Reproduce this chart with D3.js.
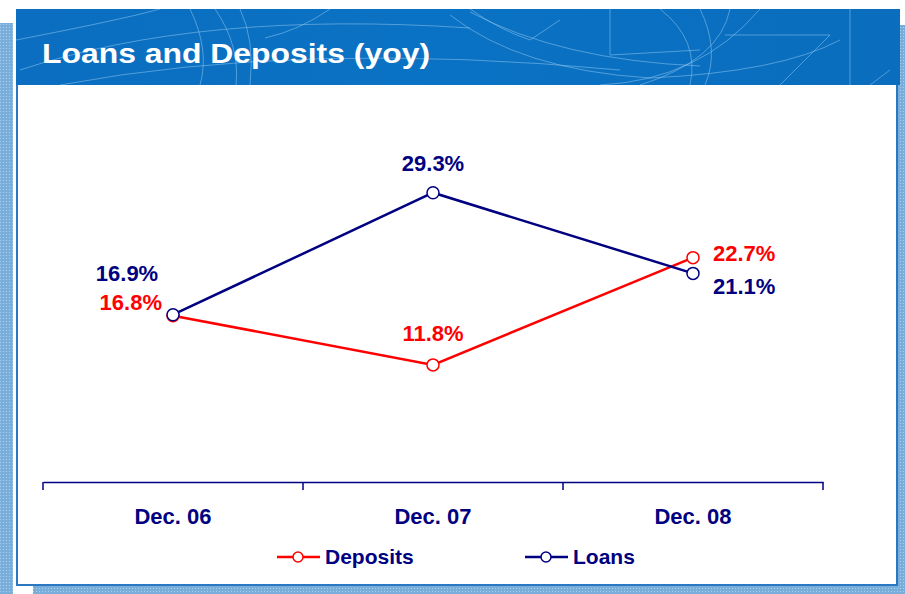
<!DOCTYPE html>
<html>
<head>
<meta charset="utf-8">
<script src="https://cdn.jsdelivr.net/npm/d3@7/dist/d3.min.js"></script>
<style>
  body { margin: 0; background: #fff; }
  svg { display: block; font-family: "Liberation Sans", Arial, sans-serif; }
</style>
</head>
<body>
<svg id="chart" width="905" height="594"></svg>
<script>
var categories = ["Dec. 06", "Dec. 07", "Dec. 08"];
var deposits = [16.8, 11.8, 22.7];
var loans = [16.9, 29.3, 21.1];
var seriesNames = ["Deposits", "Loans"];
var titleText = "Loans and Deposits (yoy)";

var navy = "#000080";
var red = "#ff0000";

// where each value label sits relative to its point
var depositLabelPos = [
  {dx: -11, dy: -6, anchor: "end"},
  {dx: 0, dy: -24, anchor: "middle"},
  {dx: 20, dy: 3, anchor: "start"}
];
var loanLabelPos = [
  {dx: -46, dy: -34, anchor: "middle"},
  {dx: 0, dy: -22, anchor: "middle"},
  {dx: 20, dy: 21, anchor: "start"}
];

var svg = d3.select("#chart");
var defs = svg.append("defs");

// dotted light-blue pattern for the frame strips
var pat = defs.append("pattern")
    .attr("id", "dots")
    .attr("width", 3).attr("height", 3)
    .attr("patternUnits", "userSpaceOnUse");
pat.append("rect").attr("width", 3).attr("height", 3).attr("fill", "#7cb0dc");
pat.append("rect").attr("width", 1).attr("height", 1).attr("fill", "#a9cbea");
pat.append("rect").attr("x", 1.5).attr("y", 1.5).attr("width", 1).attr("height", 1).attr("fill", "#6aa3d4");

svg.append("rect").attr("x", 0).attr("y", 23).attr("width", 13).attr("height", 571).attr("fill", "url(#dots)");
svg.append("rect").attr("x", 897).attr("y", 25).attr("width", 8).attr("height", 569).attr("fill", "url(#dots)");
svg.append("rect").attr("x", 33).attr("y", 586).attr("width", 872).attr("height", 8).attr("fill", "url(#dots)");

// white panel
svg.append("rect")
    .attr("x", 17).attr("y", 60).attr("width", 880).attr("height", 525)
    .attr("fill", "#fff")
    .attr("stroke", "#2a78c2")
    .attr("stroke-width", 2);

// header band
defs.append("clipPath").attr("id", "hclip")
  .append("rect").attr("x", 16).attr("y", 9).attr("width", 884).attr("height", 76);

var header = svg.append("g").attr("clip-path", "url(#hclip)");
var hg = defs.append("linearGradient").attr("id", "hgrad").attr("x1", 0).attr("x2", 1);
hg.append("stop").attr("offset", "0%").attr("stop-color", "#0b6ec0");
hg.append("stop").attr("offset", "50%").attr("stop-color", "#0a72c4");
hg.append("stop").attr("offset", "100%").attr("stop-color", "#0a6dbd");
header.append("rect").attr("x", 16).attr("y", 9).attr("width", 884).attr("height", 76).attr("fill", "url(#hgrad)");

// faint globe-like lines in the header
var decoArcs = [
  "M20,70 Q200,10 470,28",
  "M60,85 Q300,40 620,70",
  "M16,40 Q120,20 160,9",
  "M190,9 Q210,50 200,85",
  "M215,9 Q240,45 236,85",
  "M240,9 Q255,40 250,85",
  "M450,15 Q520,70 650,78 Q780,72 840,40",
  "M470,12 Q560,60 700,66",
  "M610,9 L610,55 L700,50",
  "M660,9 Q700,40 690,85",
  "M700,9 Q720,50 705,85",
  "M730,9 Q720,60 640,85",
  "M760,9 Q700,80 600,85",
  "M725,35 L830,35 L780,85",
  "M850,9 L850,85",
  "M870,85 L890,70",
  "M470,9 Q500,30 530,40 L560,20",
  "M330,9 Q300,30 265,38"
];
header.selectAll("path.deco")
  .data(decoArcs)
  .enter().append("path")
    .attr("class", "deco")
    .attr("d", function(d) { return d; })
    .attr("fill", "none")
    .attr("stroke", "#8cc4ee")
    .attr("stroke-opacity", 0.55)
    .attr("stroke-width", 1);

svg.append("text")
    .attr("x", 42).attr("y", 63)
    .attr("fill", "#fff")
    .attr("font-size", 28)
    .attr("font-weight", "bold")
    .attr("textLength", 388)
    .attr("lengthAdjust", "spacingAndGlyphs")
    .text(titleText);

// scales
var x = d3.scaleBand().domain(categories).range([43, 823]).padding(0);
var y = d3.scaleLinear().domain([0, 35]).range([481, 136.6]);
var cx = function(c) { return x(c) + x.bandwidth() / 2; };

// category axis, ticks between the categories
var axisG = svg.append("g").attr("transform", "translate(0,482)");
axisG.call(d3.axisBottom(x).tickSize(0).tickSizeOuter(0).tickPadding(26))
    .call(function(g) {
      g.select(".domain").attr("stroke", navy).attr("stroke-width", 1.5);
      g.selectAll(".tick text")
        .attr("fill", navy)
        .attr("font-size", 22)
        .attr("font-weight", "bold")
        .attr("font-family", "Liberation Sans, Arial, sans-serif");
    });
var bounds = categories.map(function(c) { return x(c); }).concat([x(categories[categories.length - 1]) + x.bandwidth()]);
axisG.selectAll("line.bound")
  .data(bounds)
  .enter().append("line")
    .attr("class", "bound")
    .attr("x1", function(d) { return d; })
    .attr("x2", function(d) { return d; })
    .attr("y1", 0).attr("y2", 8)
    .attr("stroke", navy)
    .attr("stroke-width", 1.5);

var line = d3.line()
    .x(function(d, i) { return cx(categories[i]); })
    .y(function(d) { return y(d); });

function drawSeries(values, color, labelPos) {
  var g = svg.append("g");
  g.append("path")
    .datum(values)
    .attr("d", line)
    .attr("fill", "none")
    .attr("stroke", color)
    .attr("stroke-width", 2.5);
  g.selectAll("circle")
    .data(values)
    .enter().append("circle")
      .attr("cx", function(d, i) { return cx(categories[i]); })
      .attr("cy", function(d) { return y(d); })
      .attr("r", 6)
      .attr("fill", "#fff")
      .attr("stroke", color)
      .attr("stroke-width", 1.5);
  g.selectAll("text")
    .data(values)
    .enter().append("text")
      .attr("x", function(d, i) { return cx(categories[i]) + labelPos[i].dx; })
      .attr("y", function(d, i) { return y(d) + labelPos[i].dy; })
      .attr("text-anchor", function(d, i) { return labelPos[i].anchor; })
      .attr("fill", color)
      .attr("font-size", 22)
      .attr("font-weight", "bold")
      .text(function(d) { return d3.format(".1f")(d) + "%"; });
}

drawSeries(deposits, red, depositLabelPos);
drawSeries(loans, navy, loanLabelPos);

// legend
var legendX = [277, 525];
var legendColors = [red, navy];
var legend = svg.selectAll("g.legend")
  .data(seriesNames)
  .enter().append("g")
    .attr("class", "legend")
    .attr("transform", function(d, i) { return "translate(" + legendX[i] + ",557)"; });
legend.append("line")
    .attr("x1", 0).attr("x2", 43)
    .attr("stroke", function(d, i) { return legendColors[i]; })
    .attr("stroke-width", 2.5);
legend.append("circle")
    .attr("cx", 21).attr("r", 5)
    .attr("fill", "#fff")
    .attr("stroke", function(d, i) { return legendColors[i]; })
    .attr("stroke-width", 1.5);
legend.append("text")
    .attr("x", 48).attr("y", 7)
    .attr("fill", navy)
    .attr("font-size", 21)
    .attr("font-weight", "bold")
    .text(function(d) { return d; });
</script>
</body>
</html>
